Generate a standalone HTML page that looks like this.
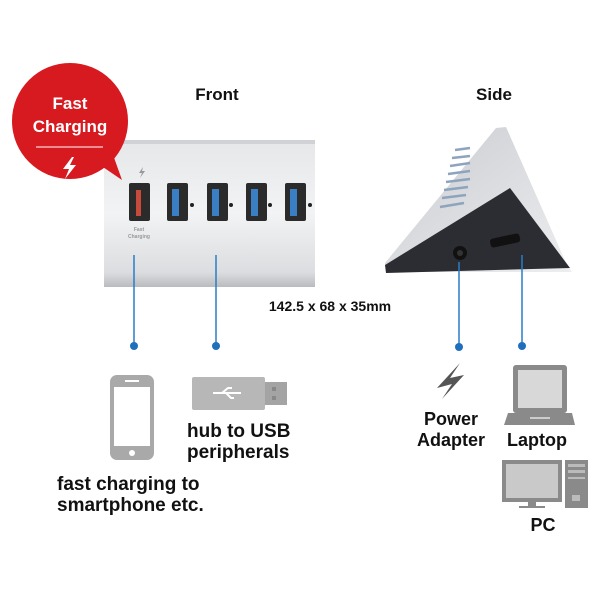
<!DOCTYPE html>
<html><head><meta charset="utf-8"><style>
html,body{margin:0;padding:0;background:#fff;}
svg{display:block;}
text{font-family:"Liberation Sans","DejaVu Sans",sans-serif;font-weight:bold;}
</style></head><body>
<svg width="600" height="600" viewBox="0 0 600 600" xmlns="http://www.w3.org/2000/svg">
<defs>
<linearGradient id="hub" x1="0" y1="0" x2="0" y2="1">
<stop offset="0" stop-color="#e6e7e9"/><stop offset="0.5" stop-color="#f2f3f4"/><stop offset="0.9" stop-color="#dcdde0"/><stop offset="1" stop-color="#b9bbbf"/>
</linearGradient>
<linearGradient id="top" x1="0" y1="0" x2="1" y2="1">
<stop offset="0" stop-color="#c9cbcf"/><stop offset="1" stop-color="#eceef0"/>
</linearGradient>
</defs>
<text x="217" y="100" font-size="17" text-anchor="middle" fill="#111">Front</text>
<text x="494" y="100" font-size="17" text-anchor="middle" fill="#111">Side</text>
<!-- front hub -->
<rect x="104" y="140" width="211" height="147" fill="url(#hub)"/>
<rect x="104" y="140" width="211" height="4" fill="#d0d2d5"/>
<g>
<rect x="129" y="183" width="21" height="38" rx="2" fill="#2b2b2b"/>
<rect x="136" y="190" width="5" height="26" fill="#c84a3a"/>
<rect x="167" y="183" width="21" height="38" rx="2" fill="#2b2b2b"/>
<rect x="172" y="189" width="7" height="27" fill="#3a7fc4"/>
<rect x="207" y="183" width="21" height="38" rx="2" fill="#2b2b2b"/>
<rect x="212" y="189" width="7" height="27" fill="#3a7fc4"/>
<rect x="246" y="183" width="21" height="38" rx="2" fill="#2b2b2b"/>
<rect x="251" y="189" width="7" height="27" fill="#3a7fc4"/>
<rect x="285" y="183" width="21" height="38" rx="2" fill="#2b2b2b"/>
<rect x="290" y="189" width="7" height="27" fill="#3a7fc4"/>
<circle cx="192" cy="205" r="2" fill="#222"/><circle cx="231" cy="205" r="2" fill="#222"/><circle cx="270" cy="205" r="2" fill="#222"/><circle cx="310" cy="205" r="2" fill="#222"/>
<text x="139" y="231" font-size="5" fill="#999" text-anchor="middle" font-weight="normal">Fast</text>
<text x="139" y="238" font-size="5" fill="#999" text-anchor="middle" font-weight="normal">Charging</text>
<path d="M143 167 l-4 6 h3 l-2 5 l5 -7 h-3 z" fill="#999"/>
</g>
<!-- red badge -->
<circle cx="70" cy="121" r="58" fill="#d71920"/>
<path d="M100 165 L122 180 L112 152 Z" fill="#d71920"/>
<text x="70" y="109" font-size="17" fill="#fff" text-anchor="middle">Fast</text>
<text x="70" y="132" font-size="17" fill="#fff" text-anchor="middle">Charging</text>
<line x1="36" y1="147" x2="103" y2="147" stroke="#fff" stroke-width="1"/>
<path d="M72 157 l-9 12 h6 l-4 10 l11 -14 h-6 l4 -8 z" fill="#fff"/>
<!-- side hub -->
<polygon points="496,128 506,127 567,265 572,272 386,272 385,263" fill="url(#top)"/>
<g stroke="#8ea4be" stroke-width="2.5">
<line x1="455" y1="150" x2="470" y2="148"/><line x1="452" y1="158" x2="470" y2="156"/><line x1="450" y1="166" x2="470" y2="163"/><line x1="448" y1="174" x2="470" y2="171"/><line x1="446" y1="182" x2="470" y2="179"/><line x1="444" y1="190" x2="468" y2="187"/><line x1="442" y1="198" x2="466" y2="195"/><line x1="440" y1="207" x2="464" y2="203"/>
</g>
<polygon points="385,265 510,188 570,268 386,273" fill="#2c2d33"/>
<circle cx="460" cy="253" r="7" fill="#111"/><circle cx="460" cy="253" r="3" fill="#333"/>
<rect x="490" y="236" width="30" height="9" rx="3" fill="#111" transform="rotate(-12 505 240)"/>
<!-- dimension -->
<text x="330" y="311" font-size="14" text-anchor="middle" fill="#111">142.5 x 68 x 35mm</text>
<!-- connectors -->
<g stroke="#2a7cc7" stroke-width="1.5">
<line x1="134" y1="255" x2="134" y2="346"/><line x1="216" y1="255" x2="216" y2="346"/>
<line x1="459" y1="262" x2="459" y2="346"/><line x1="522" y1="255" x2="522" y2="346"/>
</g>
<g fill="#1f6fbd"><circle cx="134" cy="346" r="4"/><circle cx="216" cy="346" r="4"/><circle cx="459" cy="347" r="4"/><circle cx="522" cy="346" r="4"/></g>
<!-- phone -->
<rect x="110" y="375" width="44" height="85" rx="7" fill="#a9a9a9"/>
<rect x="114" y="387" width="36" height="59" fill="#fff"/>
<rect x="125" y="380" width="14" height="2" fill="#fff"/>
<circle cx="132" cy="453" r="3" fill="#fff"/>
<!-- usb stick -->
<rect x="192" y="377" width="73" height="33" rx="2" fill="#b7b7b7"/>
<rect x="265" y="382" width="22" height="23" fill="#a4a4a4"/>
<rect x="272" y="387" width="4" height="4" fill="#888"/><rect x="272" y="396" width="4" height="4" fill="#888"/>
<path d="M213 393 h28 M222 393 l6 -5 h4 M226 393 l5 5 h3" stroke="#fff" stroke-width="2" fill="none"/>
<text x="187" y="437" font-size="19" fill="#111">hub to USB</text>
<text x="187" y="458" font-size="19" fill="#111">peripherals</text>
<text x="57" y="490" font-size="19" fill="#111">fast charging to</text>
<text x="57" y="511" font-size="19" fill="#111">smartphone etc.</text>
<!-- power bolt -->
<path d="M460 363 L437 388 L452 384 L442 399 L464 375 L450 378 Z" fill="#555"/>
<text x="451" y="425" font-size="18" text-anchor="middle" fill="#111">Power</text>
<text x="451" y="446" font-size="18" text-anchor="middle" fill="#111">Adapter</text>
<!-- laptop -->
<rect x="513" y="365" width="54" height="48" rx="3" fill="#8a8a8a"/>
<rect x="518" y="370" width="44" height="38" fill="#d8d8d8"/>
<polygon points="508,413 572,413 575,425 504,425" fill="#8a8a8a"/>
<rect x="530" y="417" width="20" height="2" fill="#ccc"/>
<text x="537" y="446" font-size="18" text-anchor="middle" fill="#111">Laptop</text>
<!-- pc -->
<rect x="502" y="460" width="60" height="42" fill="#8a8a8a"/>
<rect x="506" y="464" width="52" height="34" fill="#c9c9c9"/>
<rect x="528" y="502" width="8" height="4" fill="#8a8a8a"/><rect x="519" y="506" width="26" height="2" fill="#8a8a8a"/>
<rect x="565" y="460" width="23" height="48" fill="#8a8a8a"/>
<rect x="568" y="464" width="17" height="3" fill="#bbb"/><rect x="568" y="470" width="17" height="3" fill="#bbb"/><rect x="568" y="477" width="17" height="2" fill="#bbb"/>
<rect x="572" y="495" width="8" height="6" fill="#bbb"/>
<text x="543" y="531" font-size="18" text-anchor="middle" fill="#111">PC</text>
</svg>
</body></html>
